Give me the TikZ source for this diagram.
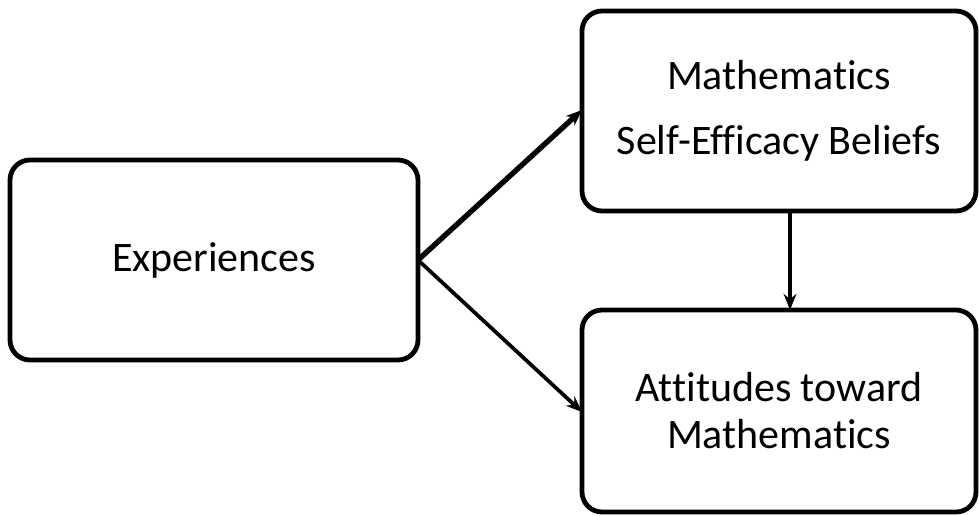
\documentclass[tikz,border=0pt]{standalone}
\usepackage{fontspec}
\setmainfont{Carlito}[RawFeature=-liga]
\usetikzlibrary{arrows.meta}
\begin{document}
\begin{tikzpicture}[x=0.75pt,y=-0.75pt,
  box/.style={draw=black,line width=3.6pt,rounded corners=15pt,inner sep=0pt,outer sep=0pt,
    align=center,font=\fontsize{31.5}{35.25}\selectfont},
  arr/.style={-{Stealth[length=12pt,width=9.5pt]},line width=2.8pt}]
\useasboundingbox (0,0) rectangle (979,515);
\node[box,minimum width=306pt,minimum height=150pt] (exp) at (214,260) {Experiences};
\node[box,minimum width=295.5pt,minimum height=150pt] (mse) at (779,111)
  {Mathematics\\[13.5pt]Self-Efficacy Beliefs};
\node[box,minimum width=295.5pt,minimum height=151.5pt] (att) at (779,411)
  {Attitudes toward\\Mathematics};
\draw[arr,line width=4pt] (exp.east) -- ([yshift=0.75pt]mse.west);
\draw[arr] (exp.east) -- ([yshift=-0.75pt]att.west);
\draw[arr,line width=3.2pt] ([xshift=8.25pt]mse.south) -- ([xshift=8.25pt]att.north);
\end{tikzpicture}
\end{document}
